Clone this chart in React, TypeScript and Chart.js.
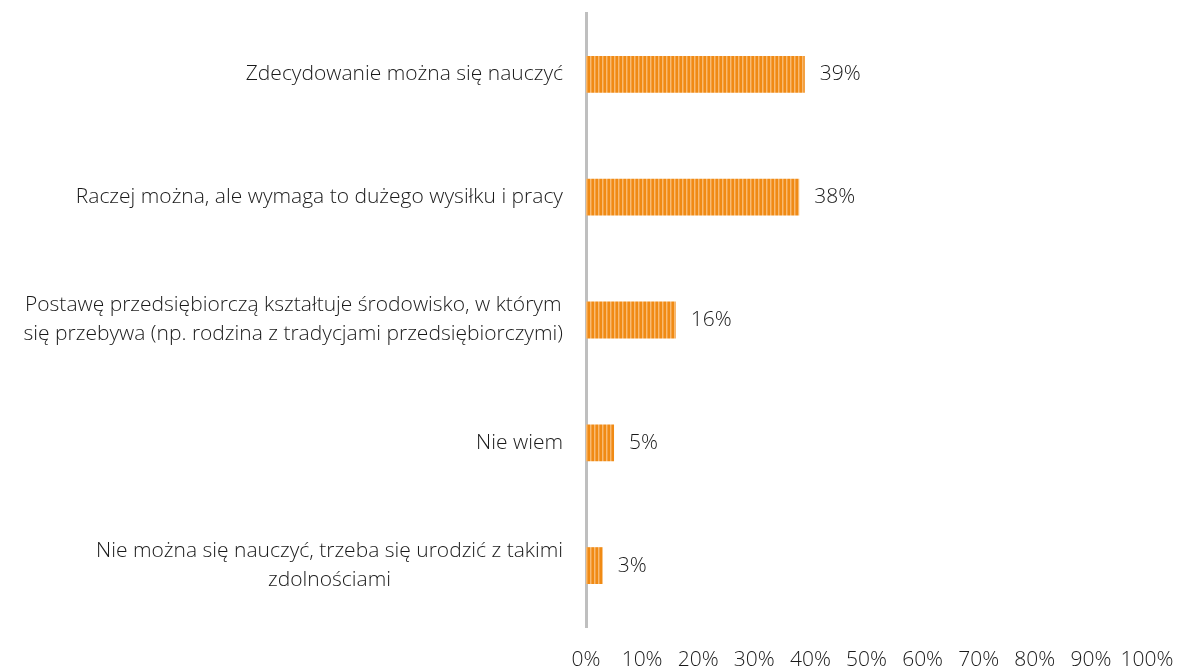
import React, { useEffect, useRef } from "react";
import { Chart, registerables } from "chart.js";

Chart.register(...registerables);

const categories: string[][] = [
  ["Zdecydowanie można się nauczyć"],
  ["Raczej można, ale wymaga to dużego wysiłku i pracy"],
  ["Postawę przedsiębiorczą kształtuje środowisko, w którym", "się przebywa (np. rodzina z tradycjami przedsiębiorczymi)"],
  ["Nie wiem"],
  ["Nie można się nauczyć, trzeba się urodzić z takimi", "zdolnościami"],
];
const values: number[] = [39, 38, 16, 5, 3];
const tickValues: number[] = [0, 10, 20, 30, 40, 50, 60, 70, 80, 90, 100];

const FONT = "'Open Sans', 'Noto Sans', sans-serif";
const TEXT = "#1a1a1a";

function makePattern(): CanvasPattern | string {
  const c = document.createElement("canvas");
  c.width = 4;
  c.height = 4;
  const g = c.getContext("2d");
  if (!g) return "#F08A14";
  g.fillStyle = "#F08A14";
  g.fillRect(0, 0, 4, 4);
  g.fillStyle = "#F8BA72";
  g.fillRect(2, 0, 1, 4);
  g.fillStyle = "#F4A040";
  g.fillRect(3, 0, 1, 4);
  const p = g.createPattern(c, "repeat");
  return p || "#F08A14";
}

export default function App() {
  const ref = useRef<HTMLCanvasElement | null>(null);
  useEffect(() => {
    if (!ref.current) return;
    const labelPlugin = {
      id: "customLabels",
      afterDraw(chart: any) {
        const ctx = chart.ctx;
        const yScale = chart.scales.y;
        const area = chart.chartArea;
        ctx.save();
        ctx.font = `300 21px ${FONT}`;
        ctx.fillStyle = TEXT;
        ctx.textBaseline = "middle";
        ctx.textAlign = "center";
        const lh = 29;
        categories.forEach((lines, i) => {
          const cy = yScale.getPixelForValue(i);
          const maxW = Math.max(...lines.map((l) => ctx.measureText(l).width));
          const right = area.left - 23;
          const cx = right - maxW / 2;
          const start = cy - ((lines.length - 1) * lh) / 2;
          lines.forEach((l, j) => ctx.fillText(l, cx, start + j * lh));
        });
        const meta = chart.getDatasetMeta(0);
        ctx.textAlign = "left";
        meta.data.forEach((bar: any, i: number) => {
          ctx.fillText(values[i] + "%", bar.x + 15, bar.y);
        });
        ctx.restore();
      },
    };
    const chart = new Chart(ref.current, {
      type: "bar",
      data: {
        labels: categories.map((c) => c.join(" ")),
        datasets: [
          {
            data: values,
            backgroundColor: makePattern() as any,
            barPercentage: 0.3,
            categoryPercentage: 1,
          },
        ],
      },
      options: {
        indexAxis: "y",
        animation: false,
        responsive: false,
        layout: { padding: { left: 586, top: 13, right: 33, bottom: 0 } },
        plugins: { legend: { display: false }, tooltip: { enabled: false } },
        scales: {
          x: {
            min: 0,
            max: 100,
            afterBuildTicks: (axis: any) => {
              axis.ticks = tickValues.map((v) => ({ value: v }));
            },
            afterFit: (axis: any) => {
              axis.height = 43;
              axis.paddingRight = 0;
              axis.paddingLeft = 0;
            },
            grid: { display: false, drawTicks: false },
            border: { display: false },
            ticks: {
              callback: (v: any) => v + "%",
              font: { family: FONT, size: 21, weight: "300" as any },
              color: TEXT,
              padding: 20,
              maxRotation: 0,
              autoSkip: false,
            },
          },
          y: {
            grid: { display: false, drawTicks: false },
            border: { display: true, color: "#BFBFBF", width: 3 },
            ticks: { display: false },
          },
        },
      },
      plugins: [labelPlugin],
    });
    return () => chart.destroy();
  }, []);
  return (
    <div style={{ position: "fixed", left: 0, top: 0, width: 1180, height: 670, background: "#fff" }}>
      <canvas ref={ref} width={1180} height={670} style={{ display: "block" }} />
    </div>
  );
}
